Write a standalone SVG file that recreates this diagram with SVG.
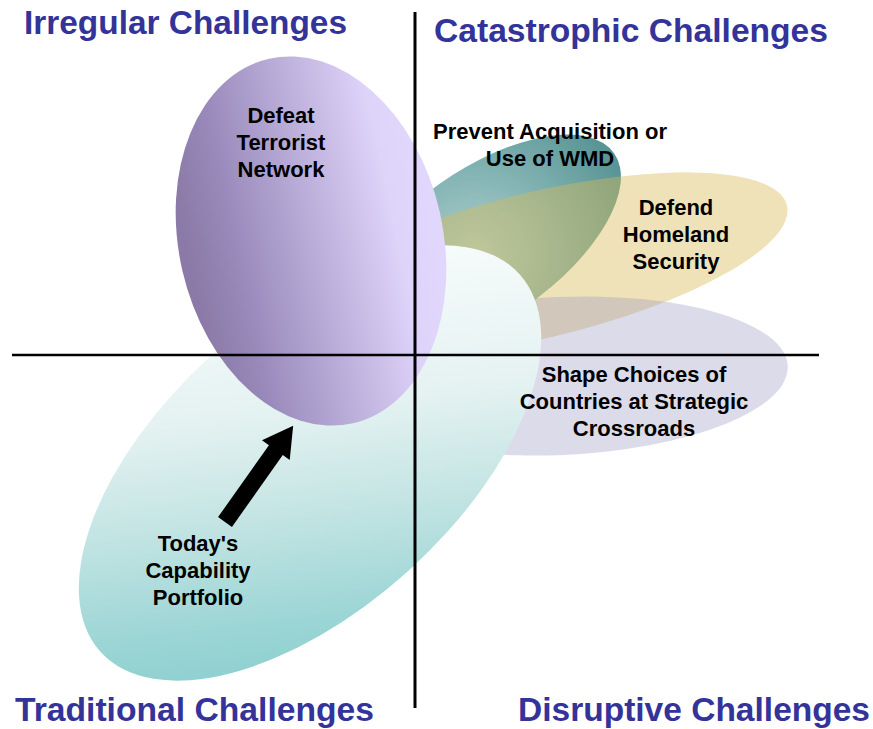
<svg xmlns="http://www.w3.org/2000/svg" width="873" height="729" viewBox="0 0 873 729">
  <style>
    .title { font-family: "Liberation Sans", Arial, sans-serif; font-weight: bold; font-size: 33px; fill: #333399; }
    .label { font-family: "Liberation Sans", Arial, sans-serif; font-weight: bold; font-size: 22px; fill: #000000; text-anchor: middle; }
    .axis { stroke: #000000; fill: none; }
  </style>
  <defs>
    <radialGradient id="gWmd" gradientUnits="userSpaceOnUse" cx="475" cy="255" r="165" gradientTransform="rotate(35 483 245)">
      <stop offset="0" stop-color="#aed0cd"/>
      <stop offset="0.5" stop-color="#84b4b4"/>
      <stop offset="1" stop-color="#5a9595"/>
    </radialGradient>
    <linearGradient id="gToday" gradientUnits="userSpaceOnUse" x1="285" y1="265" x2="335" y2="680" gradientTransform="rotate(42 310 463)">
      <stop offset="0" stop-color="#f6fbfb"/>
      <stop offset="0.35" stop-color="#e4f2f1"/>
      <stop offset="0.6" stop-color="#c2e4e3"/>
      <stop offset="0.85" stop-color="#9cd5d5"/>
      <stop offset="1" stop-color="#8ccfcf"/>
    </linearGradient>
    <linearGradient id="gDefeat" gradientUnits="userSpaceOnUse" x1="190" y1="265" x2="430" y2="215" gradientTransform="rotate(13 311 241)">
      <stop offset="0" stop-color="#8b7aa7"/>
      <stop offset="0.2" stop-color="#998abb"/>
      <stop offset="0.85" stop-color="#ded3f9"/>
      <stop offset="1" stop-color="#e1d7fd"/>
    </linearGradient>
  </defs>

  <g id="wmd">
    <ellipse cx="483" cy="245" rx="160" ry="75" transform="rotate(-35 483 245)" fill="url(#gWmd)"/>
  </g>
  <g id="homeland">
    <ellipse cx="539" cy="265" rx="255" ry="73" transform="rotate(-13.5 539 265)" fill="rgb(216,186,86)" fill-opacity="0.42"/>
  </g>
  <g id="shape">
    <ellipse cx="560" cy="376" rx="228" ry="79" transform="rotate(-2.5 560 376)" fill="rgb(150,145,190)" fill-opacity="0.33"/>
  </g>
  <g id="today">
    <ellipse cx="310" cy="463" rx="282" ry="146" transform="rotate(-42 310 463)" fill="url(#gToday)"/>
  </g>
  <g id="defeat">
    <ellipse cx="311" cy="241" rx="132" ry="187" transform="rotate(-13 311 241)" fill="url(#gDefeat)"/>
  </g>

  <g id="axes">
    <line class="axis" x1="415" y1="12" x2="415" y2="708" stroke-width="3"/>
    <line class="axis" x1="12" y1="355" x2="819" y2="355" stroke-width="2.5"/>
  </g>

  <g id="connectors">
    <polygon transform="translate(225 522) rotate(-54.7)" points="0,-8.5 88,-8.5 88,-17 118,0 88,17 88,8.5 0,8.5" fill="#000000"/>
  </g>

  <g id="labels">
    <text class="label" x="281" y="123">Defeat</text>
    <text class="label" x="281" y="150">Terrorist</text>
    <text class="label" x="281" y="177">Network</text>

    <text class="label" x="550" y="139">Prevent Acquisition or</text>
    <text class="label" x="550" y="166">Use of WMD</text>

    <text class="label" x="676" y="215">Defend</text>
    <text class="label" x="676" y="242">Homeland</text>
    <text class="label" x="676" y="269">Security</text>

    <text class="label" x="634" y="382">Shape Choices of</text>
    <text class="label" x="634" y="409">Countries at Strategic</text>
    <text class="label" x="634" y="436">Crossroads</text>

    <text class="label" x="198" y="551">Today's</text>
    <text class="label" x="198" y="578">Capability</text>
    <text class="label" x="198" y="605">Portfolio</text>
  </g>

  <g id="titles">
    <text class="title" x="24" y="34" textLength="323" lengthAdjust="spacingAndGlyphs">Irregular Challenges</text>
    <text class="title" x="434" y="42" textLength="394" lengthAdjust="spacingAndGlyphs">Catastrophic Challenges</text>
    <text class="title" x="15" y="721" textLength="359" lengthAdjust="spacingAndGlyphs">Traditional Challenges</text>
    <text class="title" x="518" y="721" textLength="352" lengthAdjust="spacingAndGlyphs">Disruptive Challenges</text>
  </g>
</svg>
